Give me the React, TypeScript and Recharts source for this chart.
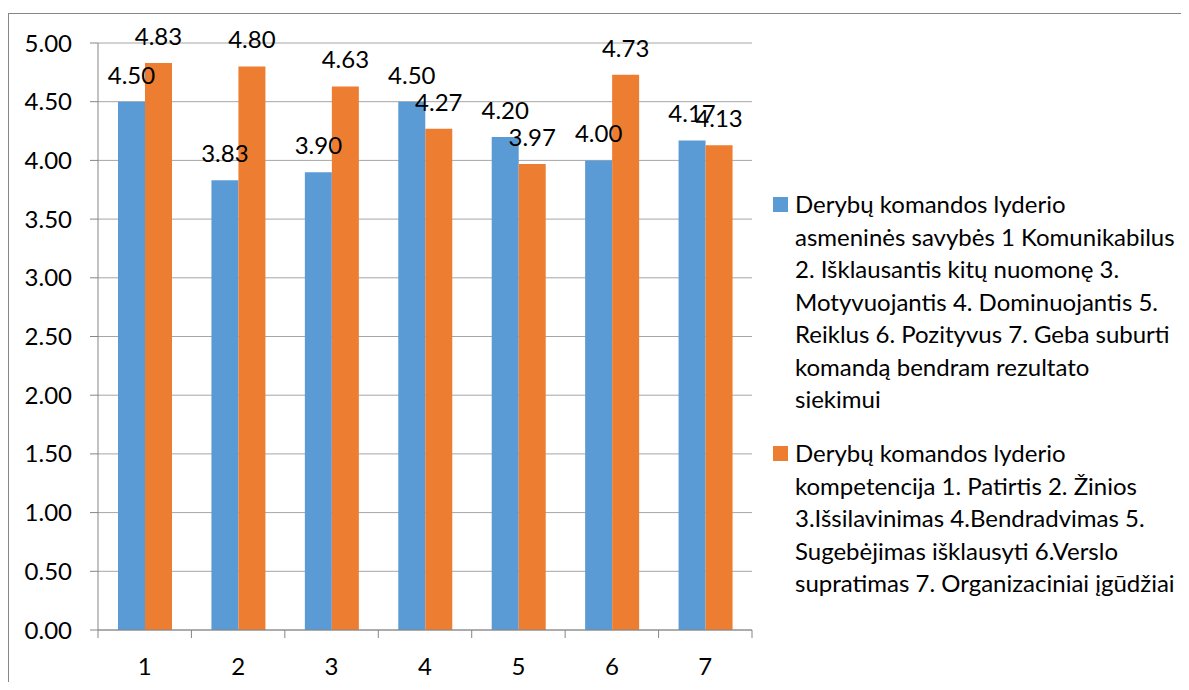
import React from 'react';
import { BarChart, Bar, XAxis, YAxis, CartesianGrid, LabelList } from 'recharts';

const CATEGORIES = ['1', '2', '3', '4', '5', '6', '7'];
const SERIES_A = [4.5, 3.83, 3.9, 4.5, 4.2, 4.0, 4.17];
const SERIES_B = [4.83, 4.8, 4.63, 4.27, 3.97, 4.73, 4.13];
const SERIES_A_NAME_LINES = [
  'Derybų komandos lyderio',
  'asmeninės savybės 1 Komunikabilus',
  '2. Išklausantis kitų nuomonę 3.',
  'Motyvuojantis 4. Dominuojantis 5.',
  'Reiklus 6. Pozityvus 7. Geba suburti',
  'komandą bendram rezultato',
  'siekimui',
];
const SERIES_B_NAME_LINES = [
  'Derybų komandos lyderio',
  'kompetencija 1. Patirtis 2. Žinios',
  '3.Išsilavinimas 4.Bendradvimas 5.',
  'Sugebėjimas išklausyti 6.Verslo',
  'supratimas 7. Organizaciniai įgūdžiai',
];
const Y_TICKS = [0, 0.5, 1, 1.5, 2, 2.5, 3, 3.5, 4, 4.5, 5];

const COLOR_A = '#5B9BD5';
const COLOR_B = '#ED7D31';
const AXIS_COLOR = '#868686';
const GRID_COLOR = '#A6A6A6';
const FONT = 'Lato, "Open Sans", sans-serif';
const FS = 24;
const LEGEND_FS = 24;

const W = 1180;
const H = 676;
const MARGIN = { top: 29, right: 437, bottom: 20, left: 0 };
const Y_AXIS_W = 89;
const X_AXIS_H = 40;
const PLOT_LEFT = MARGIN.left + Y_AXIS_W;
const PLOT_RIGHT = W - MARGIN.right;
const AXIS_Y = H - MARGIN.bottom - X_AXIS_H;
const BAND = (PLOT_RIGHT - PLOT_LEFT) / CATEGORIES.length;
const TICK = 8;

const data = CATEGORIES.map((c, i) => ({ cat: c, a: SERIES_A[i], b: SERIES_B[i] }));

const XTick = (props: any) => {
  const { x, y, payload, index } = props;
  const half = BAND / 2;
  const isLast = index === CATEGORIES.length - 1;
  return (
    <g>
      <line x1={x - half} x2={x - half} y1={AXIS_Y} y2={AXIS_Y + TICK} stroke={AXIS_COLOR} />
      {isLast && <line x1={x + half} x2={x + half} y1={AXIS_Y} y2={AXIS_Y + TICK} stroke={AXIS_COLOR} />}
      <text x={x} y={y} dy="0.71em" textAnchor="middle" fill="#000" fontSize={FS} fontFamily={FONT}>
        {payload.value}
      </text>
    </g>
  );
};

const fmt = (v: any) => Number(v).toFixed(2);

const LegendItem = ({ color, lines, top }: { color: string; lines: string[]; top: number }) => (
  <div style={{ position: 'absolute', left: 765, top, fontFamily: FONT, fontSize: LEGEND_FS, lineHeight: '32.5px', color: '#000' }}>
    <div style={{ position: 'absolute', left: 0, top: 9, width: 15, height: 15, background: color }} />
    <div style={{ position: 'absolute', left: 22, top: 0, whiteSpace: 'nowrap' }}>
      {lines.map((l, i) => (
        <div key={i}>{l}</div>
      ))}
    </div>
  </div>
);

export default function App() {
  return (
    <div style={{ position: 'relative', width: 1181, height: 674, fontFamily: FONT }}>
      <style>{`body{overflow:hidden}`}</style>
      <div
        style={{
          position: 'absolute',
          left: 0,
          top: 5,
          width: 1200,
          height: 700,
          borderLeft: `1px solid ${AXIS_COLOR}`,
          borderTop: `1px solid ${AXIS_COLOR}`,
          boxSizing: 'border-box',
        }}
      />
      <div style={{ position: 'absolute', left: 1, top: 6 }}>
        <BarChart width={W} height={H} data={data} margin={MARGIN} barCategoryGap="21.4%" barGap={0}>
          <CartesianGrid vertical={false} stroke={GRID_COLOR} />
          <XAxis
            dataKey="cat"
            height={X_AXIS_H}
            tickLine={false}
            tickSize={TICK}
            tickMargin={20}
            axisLine={{ stroke: AXIS_COLOR }}
            tick={<XTick />}
            interval={0}
          />
          <YAxis
            width={Y_AXIS_W}
            domain={[0, 5]}
            ticks={Y_TICKS}
            interval={0}
            tickFormatter={fmt}
            tickSize={TICK}
            tickMargin={18}
            axisLine={{ stroke: AXIS_COLOR }}
            tickLine={{ stroke: AXIS_COLOR }}
            tick={{ fill: '#000', fontSize: FS, fontFamily: FONT }}
          />
          <Bar dataKey="a" fill={COLOR_A} isAnimationActive={false}>
            <LabelList dataKey="a" position="top" offset={18} formatter={fmt} fill="#000" fontSize={FS} fontFamily={FONT} />
          </Bar>
          <Bar dataKey="b" fill={COLOR_B} isAnimationActive={false}>
            <LabelList dataKey="b" position="top" offset={18} formatter={fmt} fill="#000" fontSize={FS} fontFamily={FONT} />
          </Bar>
        </BarChart>
      </div>
      <LegendItem color={COLOR_A} lines={SERIES_A_NAME_LINES} top={180} />
      <LegendItem color={COLOR_B} lines={SERIES_B_NAME_LINES} top={429} />
    </div>
  );
}
